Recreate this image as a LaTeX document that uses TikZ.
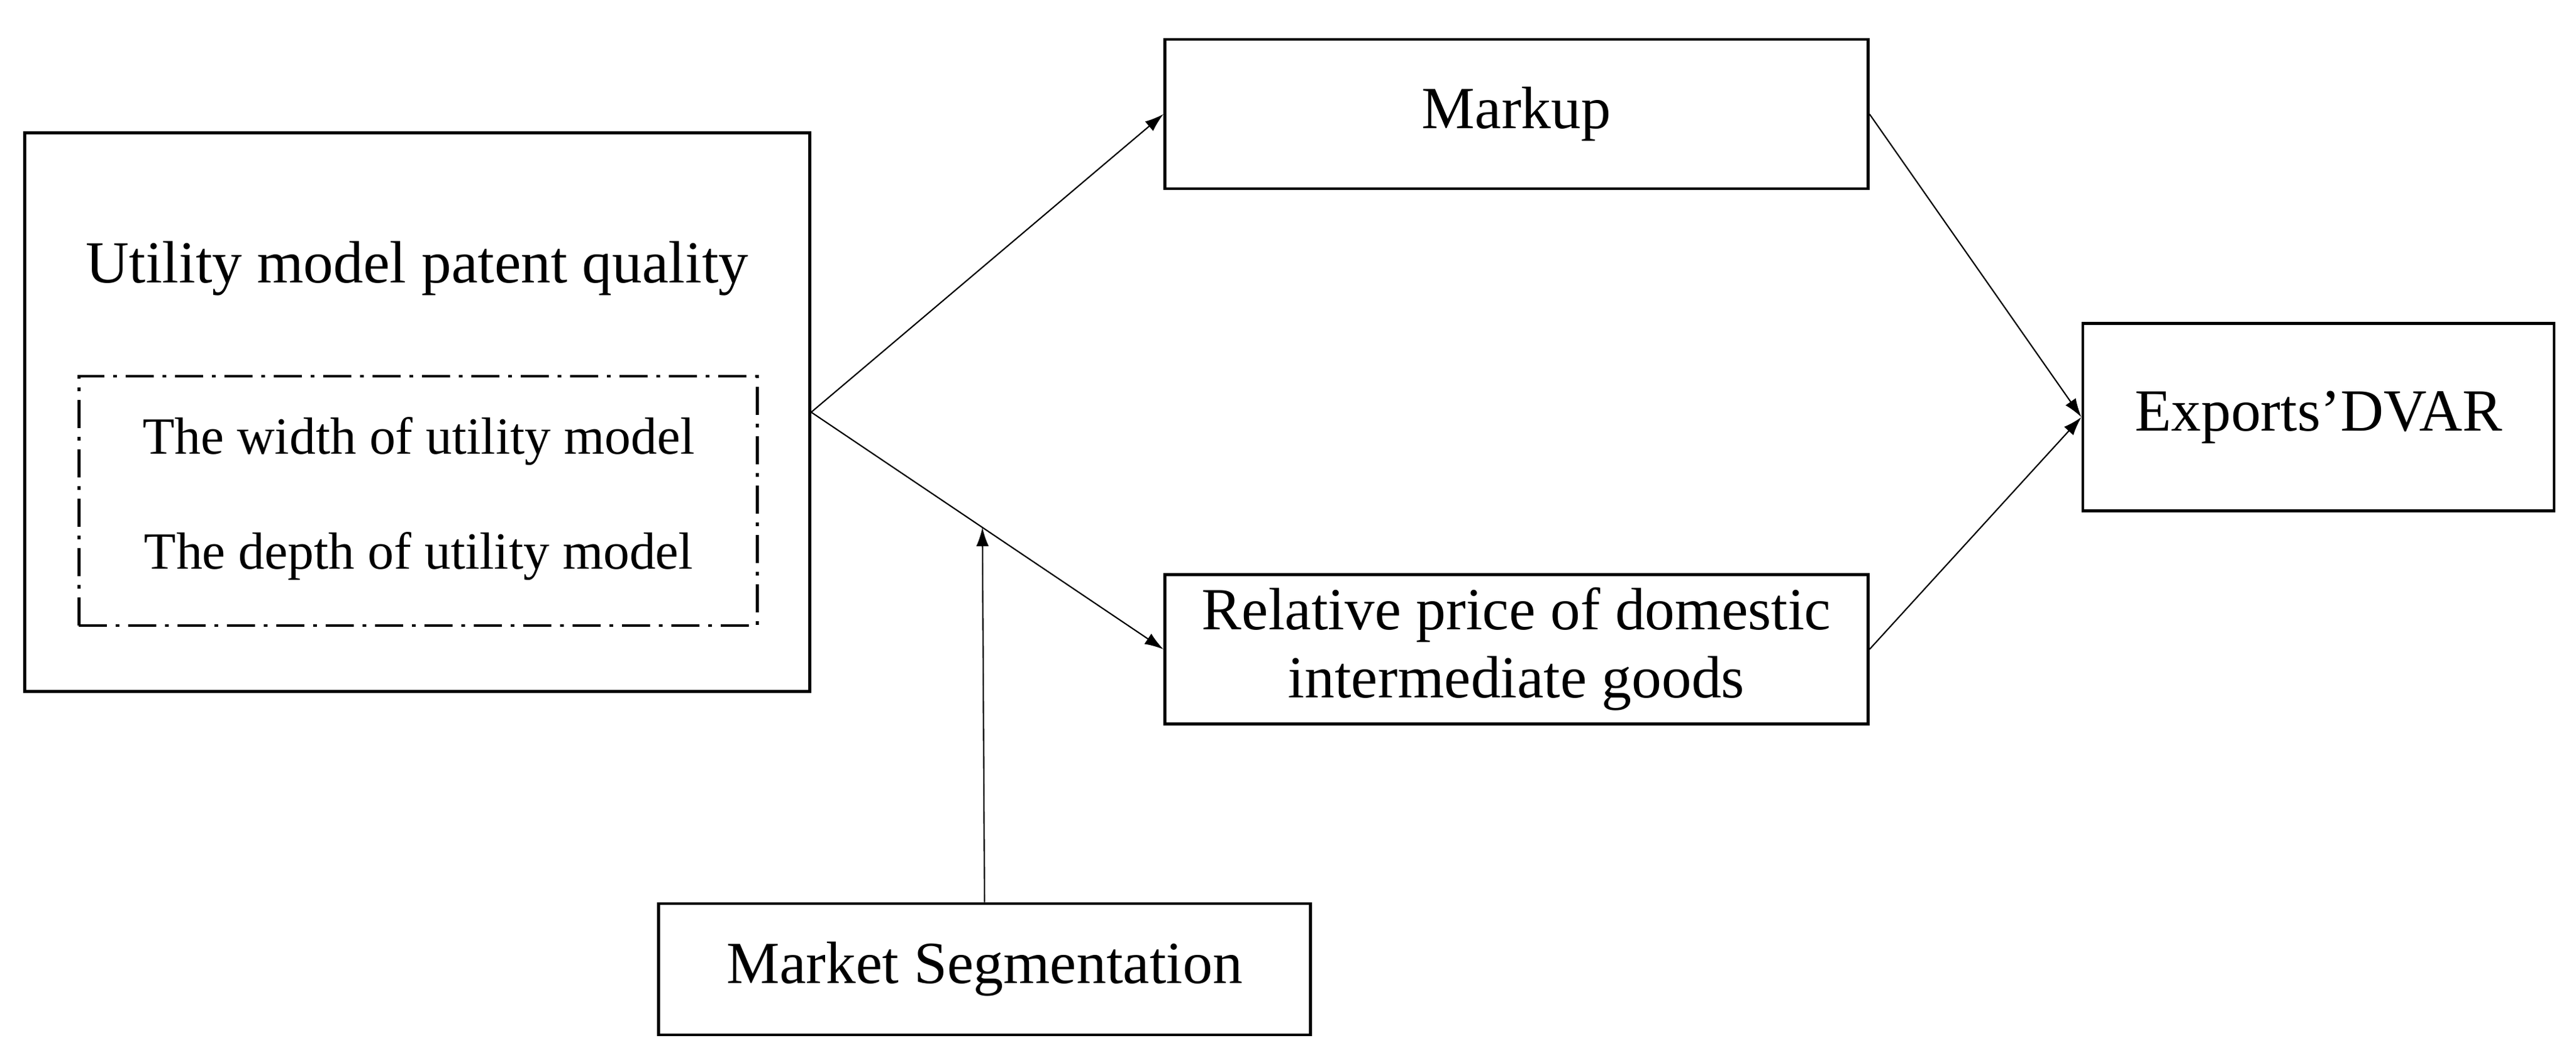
\documentclass[tikz,border=0pt]{standalone}
\usepackage{fontspec}
\setmainfont{Liberation Serif}
\usetikzlibrary{arrows.meta,calc}
\begin{document}
\begin{tikzpicture}[line width=1.3pt]
\tikzstyle{box}=[draw,shape=rectangle,inner sep=0pt,align=center,font=\fontsize{27.2}{31}\selectfont]
\tikzstyle{link}=[draw,line width=0.6pt,-{Latex[length=0.3cm,width=0.2cm]}]
\tikzstyle{inner}=[font=\fontsize{23.8}{28}\selectfont]

\useasboundingbox (0,0) rectangle (41.21,-16.68);

% left block with its two measures
\draw (6.675,-6.596) node[box,minimum width=12.56cm,minimum height=8.94cm] (quality) {};
\draw (6.675,-4.30) node[font=\fontsize{27.2}{32}\selectfont] (title) {Utility model patent quality};
\draw (6.688,-8.015) node[draw,dash pattern=on 0.45cm off 0.14cm on 0.06cm off 0.14cm,minimum width=10.85cm,minimum height=3.99cm] (measures) {};
\draw (6.70,-7.06) node[inner] (width) {The width of utility model};
\draw (6.70,-8.90) node[inner] (depth) {The depth of utility model};

\draw (24.26,-1.826) node[box,minimum width=11.25cm,minimum height=2.39cm] (markup) {Markup};
\draw (24.26,-10.39) node[box,minimum width=11.25cm,minimum height=2.39cm] (price) {Relative price of domestic\\intermediate goods};
\draw (37.09,-6.675) node[box,minimum width=7.54cm,minimum height=3.0cm] (dvar) {Exports’DVAR};
\draw (15.75,-15.51) node[box,minimum width=10.43cm,minimum height=2.10cm] (segment) {Market Segmentation};

\draw[link] (quality.east) -- (markup.west);
\draw[link] (quality.east) -- coordinate[pos=0.486] (hit) (price.west);
\draw[link] (markup.east) -- (dvar.west);
\draw[link] (price.east) -- (dvar.west);
\draw[link] (segment.north) -- (hit);
\end{tikzpicture}
\end{document}
